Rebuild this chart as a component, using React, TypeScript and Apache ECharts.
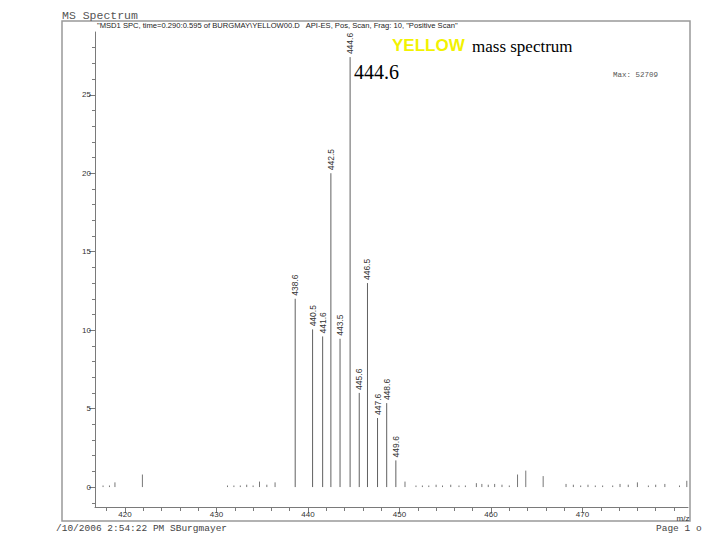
import React, { useEffect, useRef } from "react";
import * as echarts from "echarts";

// Labelled peaks (m/z, relative abundance)
const peakMz = [438.6, 440.5, 441.6, 442.5, 443.5, 444.6, 445.6, 446.5, 447.6, 448.6, 449.6];
const peakHeights = [12.0, 10.05, 9.6, 20.0, 9.45, 27.4, 6.0, 13.0, 4.4, 5.35, 1.7];
const peakLabels = ["438.6", "440.5", "441.6", "442.5", "443.5", "444.6", "445.6", "446.5", "447.6", "448.6", "449.6"];

// Small unlabelled peaks / noise
const noiseMz = [417.6, 418.3, 418.9, 421.9, 431.2, 431.9, 432.6, 433.3, 434.0, 434.7, 435.5, 436.4,
  450.6, 451.8, 452.5, 453.2, 454.0, 454.7, 455.6, 456.5, 457.2, 458.4, 459.0, 459.7, 460.4, 461.2,
  462.0, 462.9, 463.8, 465.7, 468.2, 469.0, 469.8, 470.6, 471.4, 472.2, 473.3, 474.1, 475.0, 476.0,
  477.2, 478.0, 479.0, 480.6, 481.4];
const noiseHeights = [0.1, 0.1, 0.3, 0.8, 0.1, 0.1, 0.1, 0.15, 0.1, 0.35, 0.15, 0.3,
  0.35, 0.1, 0.1, 0.1, 0.15, 0.1, 0.15, 0.1, 0.1, 0.25, 0.2, 0.15, 0.2, 0.15,
  0.1, 0.8, 1.05, 0.7, 0.2, 0.15, 0.1, 0.15, 0.1, 0.1, 0.1, 0.2, 0.15, 0.3,
  0.1, 0.15, 0.2, 0.1, 0.4];

const xLabelValues = [420, 430, 440, 450, 460, 470];
const xMinorTicks = [418, 420, 422, 424, 426, 428, 430, 432, 434, 436, 438, 440, 442, 444, 446, 448, 450,
  452, 454, 456, 458, 460, 462, 464, 466, 468, 470, 472, 474, 476, 478, 480];
const yLabelValues = [0, 5, 10, 15, 20, 25];
const yMinorTicks = [-1, 0, 1, 2, 3, 4, 5, 6, 7, 8, 9, 10, 11, 12, 13, 14, 15, 16, 17, 18, 19, 20, 21, 22, 23, 24, 25, 26, 27, 28];

const headerText = '"MSD1 SPC, time=0.290:0.595 of BURGMAY\\YELLOW00.D   API-ES, Pos, Scan, Frag: 10, "Positive Scan"';

export default function App() {
  const ref = useRef<HTMLDivElement>(null);
  useEffect(() => {
    if (!ref.current) return;
    const chart = echarts.init(ref.current, null, { renderer: "svg" });
    const xMin = 416.72, xMax = 481.53, yMin = -1.27, yMax = 29.0;
    const axisGray = "#7a7a7a";
    const labelStyle = { color: "#333", fontSize: 8, fontFamily: "Liberation Sans" };
    chart.setOption({
      animation: false,
      backgroundColor: "#ffffff",
      grid: { left: 95, right: 32, top: 32, bottom: 33 },
      xAxis: [
        {
          type: "value", min: xMin, max: xMax,
          axisLine: { show: true, onZero: false, lineStyle: { color: axisGray, width: 1 } },
          axisTick: { show: true, length: 4, lineStyle: { color: axisGray }, customValues: xMinorTicks },
          axisLabel: { show: false },
          splitLine: { show: false },
        },
        {
          type: "value", min: xMin, max: xMax, position: "bottom",
          axisLine: { show: false, onZero: false },
          axisTick: { show: true, length: 6, lineStyle: { color: axisGray }, customValues: xLabelValues },
          axisLabel: { ...labelStyle, margin: 3, customValues: xLabelValues, formatter: (v: number) => String(v) },
          splitLine: { show: false },
        },
      ],
      yAxis: [
        {
          type: "value", min: yMin, max: yMax,
          axisLine: { show: true, onZero: false, lineStyle: { color: axisGray, width: 1 } },
          axisTick: { show: true, length: 3, lineStyle: { color: axisGray }, customValues: yMinorTicks },
          axisLabel: { show: false },
          splitLine: { show: false },
        },
        {
          type: "value", min: yMin, max: yMax, position: "left",
          axisLine: { show: false, onZero: false },
          axisTick: { show: true, length: 6, lineStyle: { color: axisGray }, customValues: yLabelValues },
          axisLabel: { ...labelStyle, margin: 4, customValues: yLabelValues, formatter: (v: number) => String(v) },
          splitLine: { show: false },
        },
      ],
      series: [
        {
          type: "custom",
          xAxisIndex: 0, yAxisIndex: 0,
          data: noiseMz.map((m, i) => [m, noiseHeights[i]]),
          renderItem: (params: any, api: any) => {
            const top = api.coord([api.value(0), api.value(1)]);
            const base = api.coord([api.value(0), 0]);
            return {
              type: "line",
              shape: { x1: base[0], y1: base[1], x2: top[0], y2: top[1] },
              style: { stroke: "#777", lineWidth: 1 },
            };
          },
        },
        {
          type: "custom",
          xAxisIndex: 0, yAxisIndex: 0,
          data: peakMz.map((m, i) => [m, peakHeights[i]]),
          renderItem: (params: any, api: any) => {
            const top = api.coord([api.value(0), api.value(1)]);
            const base = api.coord([api.value(0), 0]);
            return {
              type: "group",
              children: [
                {
                  type: "line",
                  shape: { x1: base[0], y1: base[1], x2: top[0], y2: top[1] },
                  style: { stroke: "#606060", lineWidth: 1 },
                },
                {
                  type: "text",
                  x: top[0], y: top[1] - 3,
                  rotation: Math.PI / 2,
                  style: {
                    text: peakLabels[params.dataIndex],
                    fill: "#333", fontSize: 8.5, fontFamily: "Liberation Sans",
                    align: "left", verticalAlign: "middle",
                  },
                },
              ],
            };
          },
        },
      ],
      graphic: [
        { type: "rect", shape: { x: 62, y: 21, width: 628, height: 500 }, style: { fill: "none", stroke: "#999", lineWidth: 1.5 } },
        { type: "text", x: 62, y: 15, style: { text: "MS Spectrum", fill: "#555", fontSize: 11.5, fontFamily: "Liberation Mono", verticalAlign: "middle" } },
        { type: "text", x: 97, y: 25, style: { text: headerText, fill: "#222", fontSize: 7.6, fontFamily: "Liberation Sans", verticalAlign: "middle" } },
        { type: "text", x: 613, y: 75, style: { text: "Max: 52709", fill: "#555", fontSize: 7.5, fontFamily: "Liberation Mono", verticalAlign: "middle" } },
        { type: "text", x: 683, y: 518, style: { text: "m/z", fill: "#333", fontSize: 8, fontFamily: "Liberation Sans", align: "center", verticalAlign: "middle" } },
        { type: "text", x: 56, y: 528, style: { text: "/10/2006 2:54:22 PM SBurgmayer", fill: "#444", fontSize: 9.5, fontFamily: "Liberation Mono", verticalAlign: "middle" } },
        { type: "text", x: 656, y: 528, style: { text: "Page 1 o", fill: "#444", fontSize: 9.5, fontFamily: "Liberation Mono", verticalAlign: "middle" } },
        { type: "text", x: 392, y: 45, style: { text: "YELLOW", fill: "#f2f200", fontSize: 17, fontWeight: "bold", fontFamily: "Liberation Sans", verticalAlign: "middle" } },
        { type: "text", x: 472, y: 46, style: { text: "mass spectrum", fill: "#000", fontSize: 17, fontFamily: "Liberation Serif", verticalAlign: "middle" } },
        { type: "text", x: 354, y: 72, style: { text: "444.6", fill: "#000", fontSize: 20, fontFamily: "Liberation Serif", verticalAlign: "middle" } },
      ],
    });
    return () => chart.dispose();
  }, []);
  return <div ref={ref} style={{ width: 720, height: 540, position: "absolute", left: 0, top: 0 }} />;
}
